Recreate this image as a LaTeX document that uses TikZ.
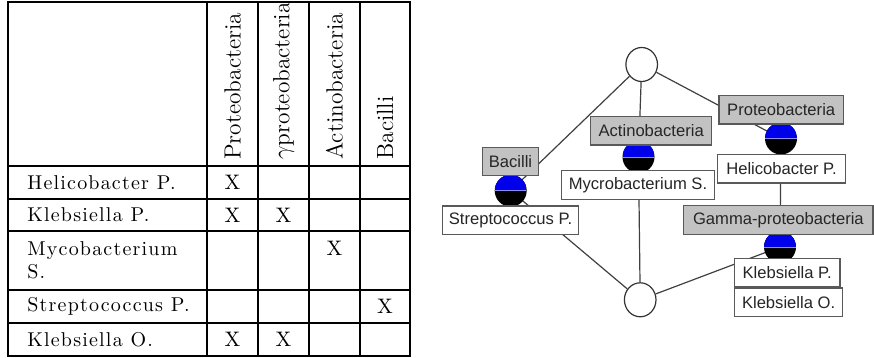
\documentclass[tikz,border=0pt]{standalone}
\usepackage{fontspec}
\newfontfamily\lucida{Liberation Sans}
\newfontfamily\rowfont{lmroman10-regular.otf}[LetterSpace=6]
\usepackage{tikz}
\usetikzlibrary{positioning,shapes.geometric,backgrounds}
\colorlet{attrgray}{black!24!white}
\colorlet{conceptblue}{blue!92!black}
\tikzstyle{rule}=[draw=black,line width=0.7pt]
\tikzstyle{thickrule}=[draw=black,line width=1.2pt]
\tikzstyle{rowlabel}=[inner sep=0pt,align=left,
    font=\rowfont\fontsize{10}{11.5}\selectfont]
\tikzstyle{header}=[rotate=90,anchor=west,inner sep=0pt,
    font=\fontsize{11.7}{14}\selectfont]
\tikzstyle{xcell}=[inner sep=0pt,font=\fontsize{10.5}{12}\selectfont]
\tikzstyle{attr}=[draw=black!65,fill=attrgray,text=black!85,inner sep=0pt,
    line width=0.6pt,minimum height=14.2pt,
    font=\lucida\fontsize{8.3}{10}\selectfont]
\tikzstyle{obj}=[style=attr,fill=white]
\tikzstyle{concept}=[circle,minimum size=16pt,inner sep=0pt,fill=black,
    path picture={\fill[conceptblue] (path picture bounding box.north west)
        rectangle (path picture bounding box.east);
      \draw[blue!45!white,line width=0.4pt] (path picture bounding box.west)
        -- (path picture bounding box.east);}]
\tikzstyle{bound}=[ellipse,draw=black!80,fill=white,line width=0.6pt,
    inner sep=0pt,minimum width=15.8pt,minimum height=17pt]
\tikzstyle{edge}=[draw=black!75,line width=0.6pt]

\begin{document}
\begin{tikzpicture}[x=0.5pt,y=-0.5pt]
\useasboundingbox (0,0) rectangle (874,358);

% cross table
\draw[thickrule] (8,2) rectangle (410,356);
\foreach \y in {166,199,231,290,323}
    \draw[rule] (8,\y) -- (410,\y);
\draw[thickrule] (207,2) -- (207,356);
\foreach \x in {258,309,360}
    \draw[rule] (\x,2) -- (\x,356);

\node[header] (hpro) at (232.5,160) {Proteobacteria};
\node[header] (hgam) at (283.5,160) {$\gamma$proteobacteria};
\node[header] (hact) at (334.5,160) {Actinobacteria};
\node[header] (hbac) at (385,160) {Bacilli};

\node[rowlabel,anchor=west] (rhel) at (27,182.5) {Helicobacter P.};
\node[rowlabel,anchor=west] (rklp) at (27,215) {Klebsiella P.};
\node[rowlabel,anchor=north west] (rmyc) at (27,241) {Mycobacterium\\S.};
\node[rowlabel,anchor=west] (rstr) at (27,306.5) {Streptococcus P.};
\node[rowlabel,anchor=west] (rklo) at (27,339.5) {Klebsiella O.};

\foreach \x/\y [count=\i] in {232.5/182.5, 232.5/215, 283.5/215, 334.5/248,
        385/306.5, 232.5/339.5, 283.5/339.5}
    \node[xcell] (x\i) at (\x,\y) {X};

% concept lattice
\node[bound] (top) at (641.7,64.5) {};
\node[bound] (bottom) at (640.2,299.8) {};
\node[concept] (cbac) at (510.7,190.7) {};
\node[concept] (cact) at (638.5,157) {};
\node[concept] (cpro) at (781,138.5) {};
\node[concept] (cgam) at (780,247) {};

\begin{scope}[on background layer]
    \draw[edge] (top) -- (cbac.center);
    \draw[edge] (top) -- (cact.center);
    \draw[edge] (top) -- (cpro.center);
    \draw[edge] (cpro.center) -- (cgam.center);
    \draw[edge] (cbac.center) -- (bottom);
    \draw[edge] (cact.center) -- (bottom);
    \draw[edge] (cgam.center) -- (bottom);
\end{scope}

\node[attr,minimum width=27.8pt] (bacilli) at (510.5,161.5) {Bacilli};
\node[obj,minimum width=68.2pt] (strep) at (510.5,220.3) {Streptococcus P.};
\node[attr,minimum width=60.5pt] (actino) at (651.2,130.8) {Actinobacteria};
\node[obj,minimum width=76.3pt] (mycro) at (638,185) {Mycrobacterium S.};
\node[attr,minimum width=62.2pt] (proteo) at (781.2,109.8) {Proteobacteria};
\node[obj,minimum width=64.2pt] (helico) at (781.5,168.8) {Helicobacter P.};
\node[attr,minimum width=94.6pt] (gamma) at (778.4,220) {Gamma-proteobacteria};
\node[obj,minimum width=52.8pt] (klebp) at (787.2,272.7) {Klebsiella P.};
\node[obj,minimum width=54.2pt,anchor=north west] (klebo) at (klebp.south west) {Klebsiella O.};
\end{tikzpicture}
\end{document}
